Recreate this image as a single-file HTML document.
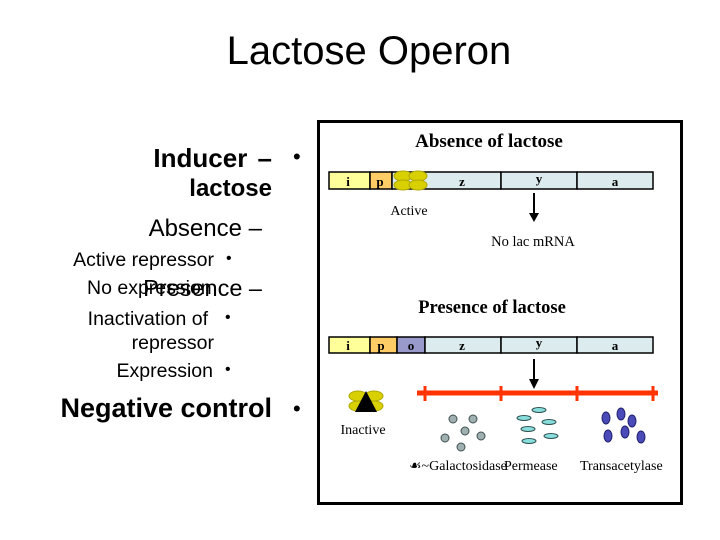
<!DOCTYPE html>
<html><head><style>
body{margin:0;width:720px;height:540px;background:#fff;position:relative;overflow:hidden;font-family:"Liberation Sans",sans-serif;}
.t{position:absolute;white-space:nowrap;color:#000;}
.r{text-align:right}
</style></head><body>
<div class="t" style="left:0;width:738px;top:29px;text-align:center;font-size:40px;">Lactose Operon</div>

<div class="t r" style="right:448px;top:143px;font-size:26px;font-weight:bold;word-spacing:3px;">Inducer –</div>
<div class="t" style="left:293px;top:144px;font-size:22px;">•</div>
<div class="t r" style="right:448px;top:175px;font-size:24px;font-weight:bold;">lactose</div>
<div class="t r" style="right:458px;top:215px;font-size:24px;">Absence –</div>
<div class="t r" style="right:506px;top:249px;font-size:19.5px;">Active repressor</div>
<div class="t" style="left:226px;top:250px;font-size:16px;">•</div>
<div class="t" style="left:87px;top:277px;font-size:19.5px;">No expression</div>
<div class="t r" style="right:458px;top:275px;font-size:23.5px;">Presence –</div>
<div class="t r" style="right:512px;top:308px;font-size:19.5px;">Inactivation of</div>
<div class="t" style="left:225px;top:309px;font-size:16px;">•</div>
<div class="t r" style="right:506px;top:332px;font-size:19.5px;">repressor</div>
<div class="t r" style="right:507px;top:360px;font-size:19.5px;">Expression</div>
<div class="t" style="left:225px;top:361px;font-size:16px;">•</div>
<div class="t r" style="right:448px;top:393px;font-size:27px;font-weight:bold;">Negative control</div>
<div class="t" style="left:293px;top:396px;font-size:22px;">•</div>

<svg style="position:absolute;left:0;top:0" width="720" height="540">
<rect x="318.5" y="121.5" width="363" height="382" fill="#fff" stroke="#000" stroke-width="3"/>
<g font-family="Liberation Serif, serif" font-weight="bold" text-anchor="middle" font-size="13">
<text x="489" y="147" font-size="19">Absence of lactose</text>
<rect x="329" y="172" width="41" height="17" fill="#ffff99" stroke="#000" stroke-width="1.5"/>
<rect x="370" y="172" width="22" height="17" fill="#ffcc66" stroke="#000" stroke-width="1.5"/>
<rect x="392" y="172" width="109" height="17" fill="#dcecee" stroke="#000" stroke-width="1.5"/>
<rect x="501" y="172" width="76" height="17" fill="#dcecee" stroke="#000" stroke-width="1.5"/>
<rect x="577" y="172" width="76" height="17" fill="#dcecee" stroke="#000" stroke-width="1.5"/>
<text x="348" y="186">i</text><text x="380" y="186">p</text><text x="462" y="186">z</text><text x="539" y="183">y</text><text x="615" y="186">a</text>
<g fill="#d8d000" stroke="#b0a800"><ellipse cx="403" cy="176" rx="9" ry="5"/><ellipse cx="403" cy="185" rx="9" ry="5"/><ellipse cx="418" cy="176" rx="9" ry="5"/><ellipse cx="418" cy="185" rx="9" ry="5"/></g>
<text x="409" y="215" font-weight="normal" font-size="14">Active</text>
<line x1="534" y1="193" x2="534" y2="214" stroke="#000" stroke-width="2"/>
<polygon points="529,213 539,213 534,222" fill="#000"/>
<text x="533" y="246" font-weight="normal" font-size="14.5">No lac mRNA</text>

<text x="492" y="313" font-size="18.5">Presence of lactose</text>
<rect x="329" y="337" width="41" height="16" fill="#ffff99" stroke="#000" stroke-width="1.5"/>
<rect x="370" y="337" width="27" height="16" fill="#ffcc66" stroke="#000" stroke-width="1.5"/>
<rect x="397" y="337" width="28" height="16" fill="#9999cc" stroke="#000" stroke-width="1.5"/>
<rect x="425" y="337" width="76" height="16" fill="#dcecee" stroke="#000" stroke-width="1.5"/>
<rect x="501" y="337" width="76" height="16" fill="#dcecee" stroke="#000" stroke-width="1.5"/>
<rect x="577" y="337" width="76" height="16" fill="#dcecee" stroke="#000" stroke-width="1.5"/>
<text x="348" y="350">i</text><text x="381" y="350">p</text><text x="411" y="350">o</text><text x="462" y="350">z</text><text x="539" y="347">y</text><text x="615" y="350">a</text>
<line x1="534" y1="359" x2="534" y2="380" stroke="#000" stroke-width="2"/>
<polygon points="529,379 539,379 534,389" fill="#000"/>
<line x1="417" y1="393" x2="658" y2="393" stroke="#ff3300" stroke-width="5"/>
<g stroke="#ff3300" stroke-width="3"><line x1="425" y1="386" x2="425" y2="401"/><line x1="501" y1="386" x2="501" y2="401"/><line x1="577" y1="386" x2="577" y2="401"/><line x1="653" y1="386" x2="653" y2="401"/></g>
<g fill="#d8d000" stroke="#b0a800"><ellipse cx="358" cy="396" rx="9" ry="5"/><ellipse cx="358" cy="406" rx="9" ry="5"/><ellipse cx="374" cy="396" rx="9" ry="5"/><ellipse cx="374" cy="406" rx="9" ry="5"/></g>
<polygon points="366,391 355,412 377,412" fill="#000"/>
<text x="363" y="434" font-weight="normal" font-size="14">Inactive</text>
<g fill="#a0b0b0" stroke="#405050"><circle cx="453" cy="419" r="4"/><circle cx="473" cy="419" r="4"/><circle cx="465" cy="431" r="4"/><circle cx="481" cy="436" r="4"/><circle cx="445" cy="438" r="4"/><circle cx="461" cy="447" r="4"/></g>
<g fill="#88dddd" stroke="#305050"><ellipse cx="539" cy="410" rx="7" ry="2.5"/><ellipse cx="524" cy="418" rx="7" ry="2.5"/><ellipse cx="549" cy="422" rx="7" ry="2.5"/><ellipse cx="528" cy="429" rx="7" ry="2.5"/><ellipse cx="551" cy="436" rx="7" ry="2.5"/><ellipse cx="529" cy="441" rx="7" ry="2.5"/></g>
<g fill="#4a4ab8" stroke="#20206a"><ellipse cx="606" cy="418" rx="4" ry="6"/><ellipse cx="621" cy="414" rx="4" ry="6"/><ellipse cx="632" cy="421" rx="4" ry="6"/><ellipse cx="608" cy="436" rx="4" ry="6"/><ellipse cx="625" cy="432" rx="4" ry="6"/><ellipse cx="641" cy="437" rx="4" ry="6"/></g>
<g font-weight="normal" font-size="14" text-anchor="start"><text x="409" y="470">☙~Galactosidase</text><text x="504" y="470">Permease</text><text x="580" y="470">Transacetylase</text></g>
</g>
</svg>
</body></html>
